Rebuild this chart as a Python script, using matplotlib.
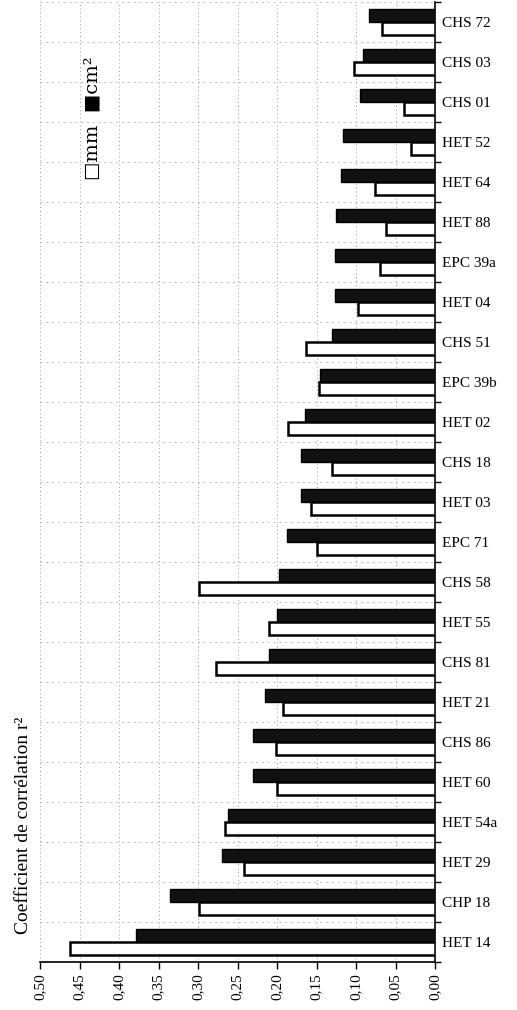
import matplotlib
matplotlib.use("Agg")
import matplotlib.pyplot as plt
import numpy as np

categories = ["CHS 72", "CHS 03", "CHS 01", "HET 52", "HET 64", "HET 88",
              "EPC 39a", "HET 04", "CHS 51", "EPC 39b", "HET 02", "CHS 18",
              "HET 03", "EPC 71", "CHS 58", "HET 55", "CHS 81", "HET 21",
              "CHS 86", "HET 60", "HET 54a", "HET 29", "CHP 18", "HET 14"]
cm2_values = [0.083, 0.091, 0.095, 0.117, 0.119, 0.125,
              0.126, 0.127, 0.131, 0.146, 0.165, 0.170,
              0.170, 0.187, 0.198, 0.200, 0.210, 0.215,
              0.230, 0.231, 0.262, 0.269, 0.336, 0.379]
mm_values = [0.067, 0.103, 0.039, 0.030, 0.076, 0.062,
             0.069, 0.097, 0.163, 0.147, 0.186, 0.130,
             0.157, 0.150, 0.299, 0.210, 0.277, 0.192,
             0.201, 0.200, 0.266, 0.242, 0.299, 0.462]
xticks = [0.50, 0.45, 0.40, 0.35, 0.30, 0.25, 0.20, 0.15, 0.10, 0.05, 0.00]
xtick_labels = ["0,50", "0,45", "0,40", "0,35", "0,30", "0,25", "0,20",
                "0,15", "0,10", "0,05", "0,00"]

plt.rcParams['font.family'] = ['Liberation Serif', 'DejaVu Serif']
plt.rcParams['hatch.color'] = '#555555'
plt.rcParams['hatch.linewidth'] = 0.5

fig = plt.figure(figsize=(5.17, 10.10), dpi=100)
ax = fig.add_axes([40/517, 1 - 962/1010, (435 - 40)/517, 960/1010])

n = len(categories)
pos = np.arange(n)
h = 0.32
ax.barh(pos - h/2, cm2_values, height=h, color='#111111', edgecolor='black',
        linewidth=1.0, zorder=3)
ax.barh(pos + h/2, mm_values, height=h, color='white', edgecolor='black',
        linewidth=1.8, zorder=3)

ax.set_xlim(0.5, 0.0)
ax.set_ylim(n - 0.5, -0.5)

ax.set_xticks(xticks)
ax.set_xticklabels(xtick_labels, rotation=90, fontsize=11)
ax.tick_params(axis='x', direction='out', length=5, width=1.0, pad=3)

ax.yaxis.tick_right()
ax.set_yticks(pos)
ax.set_yticklabels(categories, fontsize=11)
ax.tick_params(axis='y', which='major', length=0, pad=5)
ax.set_yticks(np.arange(-0.5, n, 1.0), minor=True)
ax.tick_params(axis='y', which='minor', direction='out', length=4, width=1.0)

for s in ['top', 'left']:
    ax.spines[s].set_visible(False)
ax.spines['right'].set_linewidth(1.2)
ax.spines['bottom'].set_linewidth(1.2)

ax.grid(axis='x', which='major', linestyle=(0, (1, 3)), color='#999999',
        linewidth=0.7, zorder=0)
ax.grid(axis='y', which='minor', linestyle=(0, (2, 5)), color='#aaaaaa',
        linewidth=0.6, zorder=0)

fig.text(24/517, 1 - 825/1010, "Coefficient de corrélation r²", rotation=90,
         fontsize=14, ha='center', va='center')
fig.text(92/517, 1 - 118/1010, "□mm  ■cm²", rotation=90,
         fontsize=14, ha='center', va='center',
         family=['DejaVu Serif', 'Liberation Serif'])

fig.savefig("out.png", dpi=100)
